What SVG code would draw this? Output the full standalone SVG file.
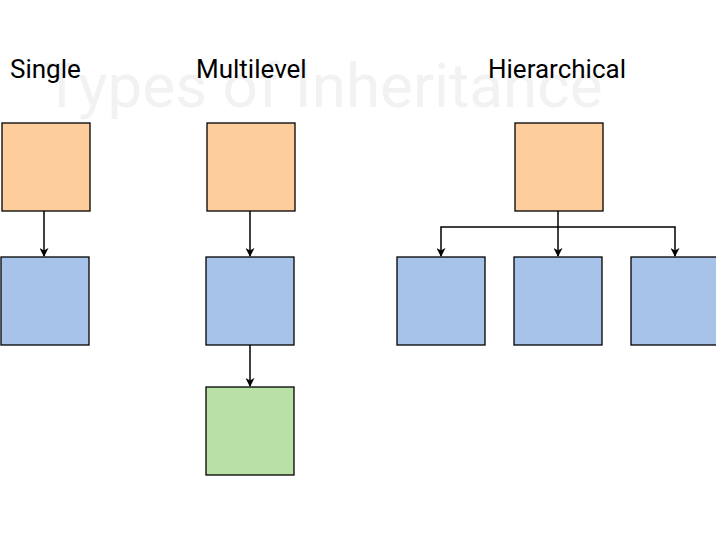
<svg xmlns="http://www.w3.org/2000/svg" width="716" height="556" viewBox="0 0 716 556">
<style>
.t{font-family:Roboto,"Liberation Sans",sans-serif;font-size:26px;fill:#000}
.o{fill:#fdce9b;stroke:#000;stroke-width:1.3}
.b{fill:#a7c3ea;stroke:#000;stroke-width:1.3}
.g{fill:#b9e0a5;stroke:#000;stroke-width:1.3}
.c{fill:none;stroke:#000;stroke-width:1.5;marker-end:url(#a)}
</style>
<defs><marker id="a" viewBox="0 0 10 10" refX="9" refY="5" markerWidth="9" markerHeight="9" markerUnits="userSpaceOnUse" orient="auto"><path d="M0,0 L10,5 L0,10 L3,5 Z" fill="#000"/></marker></defs>
<rect width="716" height="556" fill="#fff"/>
<text x="323" y="107" text-anchor="middle" font-family="Roboto,'Liberation Sans',sans-serif" font-size="62" fill="#f2f2f2">Types of Inheritance</text>
<text class="t" x="10" y="78">Single</text>
<text class="t" x="196" y="78">Multilevel</text>
<text class="t" x="488" y="78">Hierarchical</text>
<g id="s1"><rect class="o" x="2" y="123" width="88" height="88"/></g>
<g id="s2"><rect class="b" x="1" y="257" width="88" height="88"/></g>
<g id="m1"><rect class="o" x="207" y="123" width="88" height="88"/></g>
<g id="m2"><rect class="b" x="206" y="257" width="88" height="88"/></g>
<g id="m3"><rect class="g" x="206" y="387" width="88" height="88"/></g>
<g id="h1"><rect class="o" x="515" y="123" width="88" height="88"/></g>
<g id="h2"><rect class="b" x="397" y="257" width="88" height="88"/></g>
<g id="h3"><rect class="b" x="514" y="257" width="88" height="88"/></g>
<g id="h4"><rect class="b" x="631" y="257" width="88" height="88"/></g>
<g id="connectors">
<path class="c" d="M44,211 V256"/>
<path class="c" d="M250,211 V256"/>
<path class="c" d="M250,345 V386"/>
<path class="c" d="M558,211 V256"/>
<path class="c" d="M558,227 H441 V256"/>
<path class="c" d="M558,227 H675 V256"/>
</g>
</svg>
